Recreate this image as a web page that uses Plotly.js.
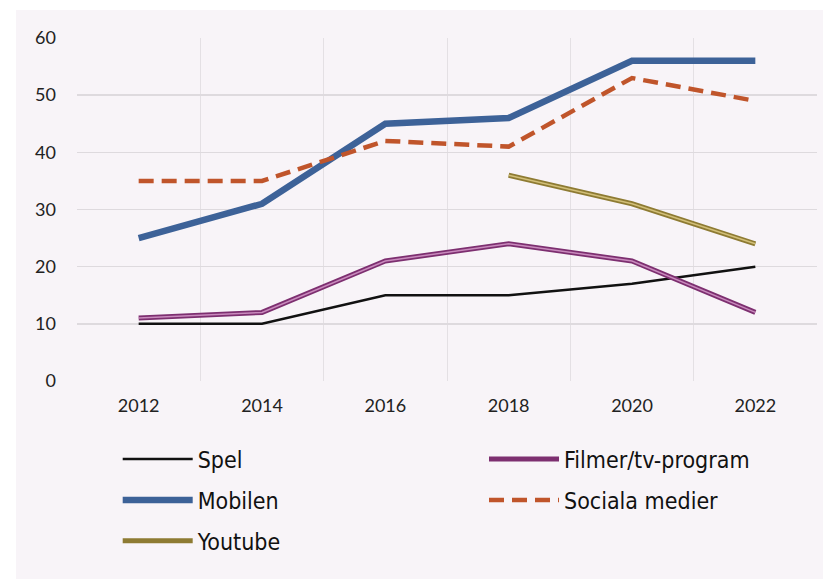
<!DOCTYPE html>
<html>
<head>
<meta charset="utf-8">
<script src="https://cdn.plot.ly/plotly-3.0.1.min.js"></script>
<style>
html,body{margin:0;padding:0;background:#ffffff;width:823px;height:579px;overflow:hidden;}
#chart{position:absolute;left:16px;top:10px;width:807px;height:569px;}
</style>
</head>
<body>
<div id="chart"></div>
<script>
const years = ["2012","2014","2016","2018","2020","2022"];
const spel = [10, 10, 15, 15, 17, 20];
const filmer = [11, 12, 21, 24, 21, 12];
const mobilen = [25, 31, 45, 46, 56, 56];
const sociala = [35, 35, 42, 41, 53, 49];
const youtube = [null, null, null, 36, 31, 24];
const names = ["Spel", "Filmer/tv-program", "Mobilen", "Sociala medier", "Youtube"];
const yTicks = [0, 10, 20, 30, 40, 50, 60];

const legendFont = {family: "DejaVu Sans Condensed, Liberation Sans, sans-serif", size: 23, color: "#111"};

const traces = [
  {x: years, y: spel, name: names[0], type: "scatter", mode: "lines",
   line: {color: "#111111", width: 2.5}, legend: "legend", legendgroup: "a", legendrank: 1},
  {x: years, y: filmer, name: names[1], type: "scatter", mode: "lines",
   line: {color: "#7d2f70", width: 5}, legend: "legend2", legendgroup: "b", legendrank: 1},
  {x: years, y: filmer, name: names[1], type: "scatter", mode: "lines", showlegend: false,
   line: {color: "#c98abd", width: 1.5}, hoverinfo: "skip", legendgroup: "b"},
  {x: years, y: mobilen, name: names[2], type: "scatter", mode: "lines",
   line: {color: "#3d6298", width: 6.5}, legend: "legend", legendgroup: "c", legendrank: 2},
  {x: years, y: sociala, name: names[3], type: "scatter", mode: "lines",
   line: {color: "#c0552b", width: 4.5, dash: "15px,8px"}, legend: "legend2", legendgroup: "d", legendrank: 2},
  {x: years, y: youtube, name: names[4], type: "scatter", mode: "lines",
   line: {color: "#8e7b33", width: 5}, legend: "legend", legendgroup: "e", legendrank: 3},
  {x: years, y: youtube, name: names[4], type: "scatter", mode: "lines", showlegend: false,
   line: {color: "#d2bf78", width: 1.5}, hoverinfo: "skip", legendgroup: "e"}
];

const layout = {
  width: 807, height: 569,
  paper_bgcolor: "#f8f4f8", plot_bgcolor: "#f8f4f8",
  margin: {l: 61, r: 6, t: 28, b: 198},
  font: {family: "Lato, sans-serif", color: "#222"},
  xaxis: {type: "category", tickson: "boundaries", showgrid: true, gridcolor: "#e4e0e4", gridwidth: 1,
          ticks: "", showline: false, zeroline: false, range: [-0.5, 5.5],
          tickfont: {size: 18, color: "#222"}, ticklabelstandoff: 12},
  yaxis: {range: [0, 60], tickvals: yTicks, showgrid: true, gridcolor: "#dedade", gridwidth: 1.5,
          zeroline: false, showline: false, ticks: "", tickfont: {size: 18, color: "#222"},
          ticklabelstandoff: 20},
  showlegend: true,
  legend: {x: 0.055, y: -0.165, xanchor: "left", yanchor: "top", orientation: "v", bgcolor: "rgba(0,0,0,0)",
           font: legendFont, tracegroupgap: 8, itemwidth: 70, traceorder: "grouped"},
  legend2: {x: 0.55, y: -0.165, xanchor: "left", yanchor: "top", orientation: "v", bgcolor: "rgba(0,0,0,0)",
           font: legendFont, tracegroupgap: 8, itemwidth: 70, traceorder: "grouped"}
};

Plotly.newPlot("chart", traces, layout, {displayModeBar: false, staticPlot: true});
</script>
</body>
</html>
